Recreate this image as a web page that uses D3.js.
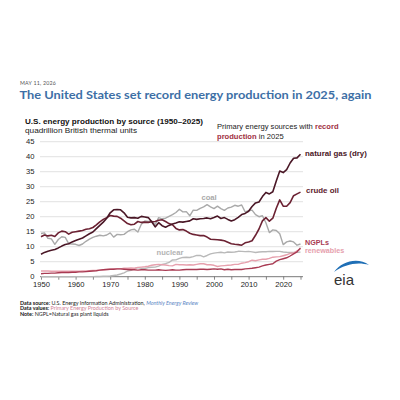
<!DOCTYPE html>
<html>
<head>
<meta charset="utf-8">
<script src="https://cdn.jsdelivr.net/npm/d3@7"></script>
<style>
  body { margin: 0; background: #fff; }
  svg { display: block; }
</style>
</head>
<body>
<div id="container"></div>
<script>
// values, quadrillion Btu, one per year 1950-2025
let startYear = 1950;
let endYear = 2025;

let naturalGas = [
  7.5, 8.1, 8.5, 8.8, 9.1, 9.6, 10.2, 10.7, 11.0, 11.6,
  12.1, 12.5, 12.9, 13.6, 14.3, 14.9, 16.0, 17.1, 18.2, 19.5,
  21.3, 22.3, 22.4, 22.3, 21.3, 19.8, 19.6, 19.7, 19.5, 20.1,
  19.9, 19.7, 18.3, 16.6, 18.0, 17.0, 16.5, 17.1, 17.6, 17.9,
  18.3, 18.2, 18.4, 18.6, 19.3, 19.1, 19.3, 19.4, 19.6, 19.3,
  19.7, 20.2, 19.4, 19.7, 19.1, 18.6, 19.0, 19.8, 20.7, 21.1,
  21.8, 23.4, 24.6, 24.9, 26.7, 28.1, 27.6, 28.3, 31.9, 35.2,
  34.7, 35.7, 37.9, 39.5, 39.6, 40.8
];
let crudeOil = [
  13.3, 13.9, 13.6, 13.8, 13.4, 14.6, 15.2, 15.0, 14.2, 14.8,
  15.0, 15.2, 15.4, 15.8, 16.0, 16.4, 17.3, 18.3, 19.1, 19.7,
  20.4, 20.2, 20.1, 19.5, 18.6, 17.7, 17.3, 17.5, 18.4, 18.1,
  18.2, 18.1, 18.3, 18.4, 18.8, 19.0, 18.4, 17.7, 17.3, 16.1,
  15.6, 15.7, 15.2, 14.5, 14.1, 13.9, 13.7, 13.7, 13.2, 12.5,
  12.4, 12.3, 12.2, 12.0, 11.5, 11.0, 10.8, 10.7, 10.5, 11.3,
  11.6, 12.0, 13.8, 15.9, 18.6, 19.7, 18.5, 19.5, 22.8, 25.6,
  23.5, 23.5, 24.7, 27.0, 27.6, 28.2
];
let coal = [
  14.4, 14.6, 12.8, 12.6, 10.8, 12.4, 13.3, 13.1, 11.0, 10.9,
  10.8, 10.4, 10.9, 11.8, 12.5, 13.1, 13.5, 13.8, 13.6, 13.9,
  14.6, 13.2, 14.1, 14.0, 14.1, 15.0, 15.6, 15.8, 14.9, 17.5,
  18.6, 18.4, 18.6, 17.3, 19.7, 19.3, 19.5, 20.1, 20.7, 21.4,
  22.5, 21.6, 21.7, 20.3, 22.2, 22.1, 22.8, 23.3, 24.0, 23.3,
  22.7, 23.5, 22.7, 22.1, 22.9, 23.2, 23.8, 23.5, 23.9, 21.6,
  22.0, 22.2, 20.7, 20.0, 20.3, 18.0, 14.7, 15.6, 15.4, 14.3,
  10.7, 11.6, 11.9, 11.6, 10.5, 10.9
];
let nuclear = [
  0, 0, 0, 0, 0, 0, 0, 0, 0, 0,
  0.01, 0.02, 0.03, 0.04, 0.04, 0.04, 0.06, 0.09, 0.14, 0.15,
  0.24, 0.41, 0.58, 0.91, 1.27, 1.90, 2.11, 2.70, 3.02, 2.78,
  2.74, 3.01, 3.13, 3.20, 3.55, 4.08, 4.38, 4.75, 5.59, 5.60,
  6.10, 6.42, 6.48, 6.41, 6.69, 7.08, 7.09, 6.60, 7.07, 7.61,
  7.86, 8.03, 8.15, 7.96, 8.22, 8.16, 8.22, 8.46, 8.43, 8.36,
  8.43, 8.27, 8.06, 8.24, 8.34, 8.34, 8.43, 8.42, 8.44, 8.45,
  8.25, 8.13, 8.06, 8.10, 8.15, 8.20
];
let renewables = [
  1.9, 1.9, 1.9, 1.8, 1.8, 1.8, 1.8, 1.8, 1.8, 1.8,
  1.8, 1.8, 1.9, 1.9, 2.0, 2.1, 2.1, 2.2, 2.3, 2.4,
  2.5, 2.6, 2.6, 2.6, 2.8, 2.8, 2.9, 2.8, 3.1, 3.2,
  3.3, 3.5, 3.8, 4.0, 4.1, 4.0, 3.9, 3.7, 3.6, 4.1,
  4.0, 4.0, 3.9, 4.0, 3.9, 4.1, 4.3, 4.3, 4.0, 4.0,
  3.8, 3.4, 3.6, 3.7, 3.8, 3.9, 4.1, 4.1, 4.5, 4.7,
  5.0, 5.5, 5.3, 5.6, 5.8, 5.8, 6.1, 6.5, 6.6, 6.7,
  7.0, 7.3, 7.8, 7.9, 8.6, 9.2
];
let ngpls = [
  1.0, 1.1, 1.1, 1.2, 1.2, 1.3, 1.4, 1.4, 1.4, 1.5,
  1.5, 1.6, 1.6, 1.7, 1.8, 1.9, 2.0, 2.2, 2.3, 2.4,
  2.5, 2.5, 2.6, 2.6, 2.5, 2.4, 2.3, 2.3, 2.2, 2.3,
  2.3, 2.2, 2.2, 2.2, 2.3, 2.2, 2.1, 2.2, 2.3, 2.2,
  2.2, 2.3, 2.4, 2.4, 2.4, 2.4, 2.5, 2.5, 2.4, 2.5,
  2.6, 2.5, 2.6, 2.3, 2.5, 2.3, 2.4, 2.4, 2.4, 2.6,
  2.7, 2.8, 3.0, 3.2, 3.6, 3.9, 4.1, 4.3, 5.2, 5.7,
  6.0, 6.3, 6.9, 7.6, 8.3, 9.6
];

let yTicks = [0, 5, 10, 15, 20, 25, 30, 35, 40, 45];
let xLabelYears = [1950, 1960, 1970, 1980, 1990, 2000, 2010, 2020];
let xTickYears = d3.range(1950, 2026, 5);

let w = 400;
let h = 400;
let chartFont = "'Liberation Sans', Arial, sans-serif";
let pageFont = "Lato, 'Open Sans', sans-serif";

let viz = d3.select("#container")
  .append("svg")
    .attr("width", w)
    .attr("height", h)
    .style("background", "#fff")
;

let xScale = d3.scaleLinear().domain([startYear, endYear]).range([41, 300.5]);
let yScale = d3.scaleLinear().domain([0, 45]).range([276.7, 141.7]);

// header
viz.append("text")
  .attr("x", 20).attr("y", 84.5)
  .attr("font-family", pageFont).attr("font-size", 5.3)
  .attr("fill", "#555").attr("letter-spacing", 0.2)
  .text("MAY 11, 2026");

viz.append("text")
  .attr("x", 19.5).attr("y", 99.3)
  .attr("font-family", pageFont).attr("font-size", 12).attr("font-weight", 700)
  .attr("fill", "#3d6fa6")
  .attr("textLength", 352).attr("lengthAdjust", "spacingAndGlyphs")
  .text("The United States set record energy production in 2025, again");

viz.append("text")
  .attr("x", 25).attr("y", 124)
  .attr("font-family", chartFont).attr("font-size", 7.6).attr("font-weight", 700)
  .attr("fill", "#111")
  .attr("textLength", 178).attr("lengthAdjust", "spacingAndGlyphs")
  .text("U.S. energy production by source (1950–2025)");

viz.append("text")
  .attr("x", 25).attr("y", 133.3)
  .attr("font-family", chartFont).attr("font-size", 7.6)
  .attr("fill", "#222")
  .attr("textLength", 112).attr("lengthAdjust", "spacingAndGlyphs")
  .text("quadrillion British thermal units");

// gridlines + y labels
let gridGroup = viz.append("g").attr("class", "grid");
gridGroup.selectAll("line").data(yTicks).enter()
  .append("line")
    .attr("x1", 40).attr("x2", 303)
    .attr("y1", function(d){ return yScale(d); })
    .attr("y2", function(d){ return yScale(d); })
    .attr("stroke", function(d){ return d === 0 ? "#555" : "#cfcfcf"; })
    .attr("stroke-width", function(d){ return d === 0 ? 0.8 : 0.6; })
;
gridGroup.selectAll("text").data(yTicks).enter()
  .append("text")
    .attr("x", 34.5)
    .attr("y", function(d){ return yScale(d) + 2.6; })
    .attr("text-anchor", "end")
    .attr("font-family", chartFont).attr("font-size", 7.6)
    .attr("fill", "#222")
    .text(function(d){ return d; })
;

// x axis
let xAxis = d3.axisBottom(xScale)
  .tickValues(xTickYears)
  .tickSize(3)
  .tickFormat(function(d){ return xLabelYears.indexOf(d) >= 0 ? d : ""; });
let xAxisGroup = viz.append("g")
    .attr("class", "xaxisgroup")
    .attr("transform", "translate(0," + yScale(0) + ")")
;
xAxisGroup.call(xAxis);
xAxisGroup.select(".domain").remove();
xAxisGroup.selectAll("line").attr("stroke", "#555").attr("stroke-width", 0.7);
xAxisGroup.selectAll("text")
  .attr("font-family", chartFont).attr("font-size", 7.6)
  .attr("fill", "#222").attr("dy", "0.55em");

// lines
let series = [
  { name: "coal", values: coal, color: "#a9a9a9", width: 1.4 },
  { name: "nuclear", values: nuclear, color: "#b9b9b9", width: 1.4 },
  { name: "renewables", values: renewables, color: "#e6a0ad", width: 1.4 },
  { name: "ngpls", values: ngpls, color: "#a83a52", width: 1.4 },
  { name: "crude", values: crudeOil, color: "#6c2233", width: 1.6 },
  { name: "gas", values: naturalGas, color: "#4a1726", width: 1.6 }
];

let lineMaker = d3.line()
  .x(function(d, i){ return xScale(startYear + i); })
  .y(function(d){ return yScale(d); })
;

let graphGroup = viz.append("g").attr("class", "graphGroup");
graphGroup.selectAll(".line").data(series).enter()
  .append("path")
    .attr("class", "line")
    .attr("d", function(d){ return lineMaker(d.values); })
    .attr("fill", "none")
    .attr("stroke", function(d){ return d.color; })
    .attr("stroke-width", function(d){ return d.width; })
    .attr("stroke-linejoin", "round")
;

// labels
let labels = [
  { text: "natural gas (dry)", x: 305, y: 155.7, size: 7.9, color: "#4a1726" },
  { text: "crude oil", x: 306, y: 193.3, size: 7.9, color: "#5e1d2c" },
  { text: "coal", x: 201.5, y: 199.5, size: 7.6, color: "#a9a9a9" },
  { text: "nuclear", x: 156.5, y: 254.5, size: 7.6, color: "#b3b3b3" },
  { text: "NGPLs", x: 305, y: 244.6, size: 7.2, color: "#a83a52" },
  { text: "renewables", x: 305, y: 253, size: 7.2, color: "#e6a0ad" }
];
viz.selectAll(".label").data(labels).enter()
  .append("text")
    .attr("class", "label")
    .attr("x", function(d){ return d.x; })
    .attr("y", function(d){ return d.y; })
    .attr("font-family", chartFont)
    .attr("font-size", function(d){ return d.size; })
    .attr("font-weight", 700)
    .attr("fill", function(d){ return d.color; })
    .text(function(d){ return d.text; })
;

// annotation
let note1 = viz.append("text")
  .attr("x", 217).attr("y", 129.3)
  .attr("font-family", chartFont).attr("font-size", 7.6).attr("fill", "#222");
note1.append("tspan").text("Primary energy sources with ");
note1.append("tspan").attr("font-weight", 700).attr("fill", "#a0303f").text("record");
let note2 = viz.append("text")
  .attr("x", 217).attr("y", 139.3)
  .attr("font-family", chartFont).attr("font-size", 7.6).attr("fill", "#222");
note2.append("tspan").attr("font-weight", 700).attr("fill", "#a0303f").text("production");
note2.append("tspan").text(" in 2025");

// eia logo
viz.append("path")
  .attr("d", "M334,272 C342,261 358,257 369,265 C358,261.5 345,264 334,272 Z")
  .attr("fill", "#1f6fb6");
viz.append("text")
  .attr("x", 334).attr("y", 285)
  .attr("font-family", chartFont).attr("font-size", 15)
  .attr("fill", "#333")
  .text("eia");

// footer
let foot = [
  [["Data source:", 700, "#111", "normal"], [" U.S. Energy Information Administration, ", 400, "#222", "normal"], ["Monthly Energy Review", 400, "#5b86c4", "italic"]],
  [["Data values:", 700, "#111", "normal"], [" Primary Energy Production by Source", 400, "#d07f95", "normal"]],
  [["Note:", 700, "#111", "normal"], [" NGPL=Natural gas plant liquids", 400, "#222", "normal"]]
];
foot.forEach(function(row, i){
  let t = viz.append("text")
    .attr("x", 20).attr("y", 304.5 + i * 5.8)
    .attr("font-family", pageFont).attr("font-size", 5.4);
  row.forEach(function(part){
    t.append("tspan")
      .attr("font-weight", part[1])
      .attr("fill", part[2])
      .attr("font-style", part[3])
      .text(part[0]);
  });
});
</script>
</body>
</html>
